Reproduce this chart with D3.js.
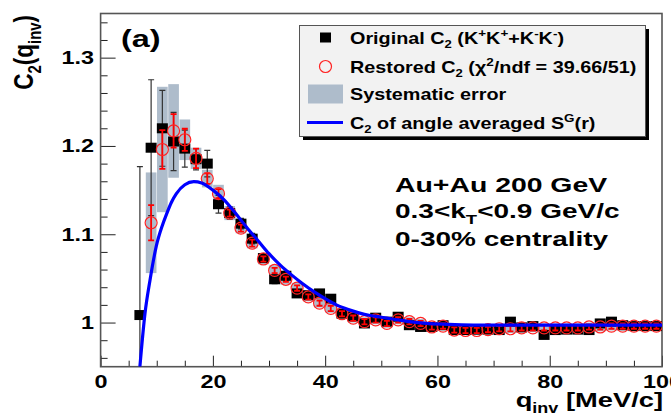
<!DOCTYPE html>
<html><head><meta charset="utf-8">
<script src="https://cdn.jsdelivr.net/npm/d3@7"></script>
<style>
html,body{margin:0;padding:0;background:#fff;}
text{font-family:"Liberation Sans",Arial,Helvetica,sans-serif;font-weight:bold;fill:#000;}
</style></head>
<body><svg id="c" width="671" height="419"></svg>
<script>
// ---------------- data ----------------
const qValues = [7,9,11,13,15,17,19,21,23,25,27,29,31,33,35,37,39,41,43,45,47,49,51,53,55,57,59,61,63,65,67,69,71,73,75,77,79,81,83,85,87,89,91,93,95,97,99];
const origC2  = [1.0085,1.198,1.220,1.205,1.197,1.185,1.180,1.134,1.124,1.112,1.095,1.073,1.049,1.053,1.033,1.031,1.033,1.027,1.010,1.007,0.999,1.0055,1.001,1.0066,0.997,0.995,0.995,0.997,0.9915,0.9915,0.992,0.992,0.9915,1.001,0.9945,0.996,0.986,0.9915,0.992,0.992,0.9915,0.999,1.001,0.997,0.996,0.996,0.996];
const origErr = [0.168,0.077,0.043,0.033,0.021,0.012,0.015,0.010,0.007,0.006,0.006,0.005,0.005,0.005,0.004,0.004,0.004,0.004,0.004,0.004,0.004,0.004,0.004,0.004,0.004,0.004,0.004,0.004,0.004,0.004,0.004,0.004,0.004,0.004,0.004,0.004,0.004,0.004,0.004,0.004,0.004,0.004,0.004,0.004,0.004,0.004,0.004];
const restQ   = [9,11,13,15,17,19,21,23,25,27,29,31,33,35,37,39,41,43,45,47,49,51,53,55,57,59,61,63,65,67,69,71,73,75,77,79,81,83,85,87,89,91,93,95,97,99];
const restC2  = [1.113,1.196,1.217,1.207,1.186,1.163,1.146,1.124,1.107,1.090,1.072,1.059,1.049,1.039,1.029,1.022,1.016,1.010,1.005,1.001,1.003,0.999,1.003,1.001,0.999,0.995,0.996,0.9915,0.991,0.991,0.992,0.993,0.993,0.994,0.994,0.994,0.994,0.994,0.994,0.995,0.995,0.996,0.996,0.996,0.996,0.996];
const restErr = [0.020,0.022,0.019,0.0125,0.011,0.006,0.005,0.004,0.004,0.004,0.003,0.003,0.003,0.003,0.003,0.003,0.003,0.003,0.003,0.003,0.003,0.003,0.003,0.003,0.003,0.003,0.003,0.003,0.003,0.003,0.003,0.003,0.003,0.003,0.003,0.003,0.003,0.003,0.003,0.003,0.003,0.003,0.003,0.003,0.003,0.003];
const sysErr  = [0.057,0.071,0.053,0.023,0.012,0.010,0.010,0.008,0.006,0.006,0.006,0.006,0.006,0.006,0.005,0.005,0.005,0.005,0.005,0.005,0.005,0.005,0.005,0.005,0.005,0.005,0.005,0.005,0.005,0.005,0.005,0.005,0.005,0.005,0.005,0.005,0.005,0.005,0.005,0.005,0.005,0.005,0.005,0.005,0.005,0.005];
const curveQ  = [7.0,7.9,8.8,9.9,11.0,11.7,12.6,13.5,15.0,16.6,18.0,20,22,24,26,28,30,32,34,36,38,40,42,44,46,48,50,52,55,58,62,70,80,90,100];
const curveC2 = [0.95,1.010,1.048,1.086,1.110,1.122,1.136,1.146,1.156,1.1595,1.158,1.150,1.139,1.124,1.108,1.093,1.078,1.065,1.054,1.044,1.035,1.027,1.020,1.015,1.011,1.008,1.006,1.004,1.001,0.999,0.998,0.997,0.997,0.997,0.997];
const xMajor = [0,20,40,60,80,100];
const yMajor = [1.0,1.1,1.2,1.3];
const legendLabels = ["Original", "Restored", "Systematic error", "angle averaged"];
const infoLines = ["Au+Au 200 GeV", "0.3<k_T<0.9 GeV/c", "0-30% centrality"];

// ---------------- layout ----------------
const SX = 1.3; // horizontal stretch of the reference lettering
const svg = d3.select("#c");
const x = d3.scaleLinear().domain([0,100]).range([100.6,662]);
const y = d3.scaleLinear().domain([0.95,1.35]).range([366.7,13.5]);
const X0=x(0), X1=x(100), Y0=y(0.95), Y1=y(1.35);

svg.append("rect").attr("width",671).attr("height",419).attr("fill","#fff");
svg.append("clipPath").attr("id","clip").append("rect")
  .attr("x",X0).attr("y",Y1).attr("width",X1-X0).attr("height",Y0-Y1);

// axes (ticks inward)
const minorX = d3.range(0,101,5).filter(v=>v%20!==0);
const minorY = d3.range(0,21).map(i=>+(0.96+i*0.02).toFixed(2)).filter(v=>Math.abs(v*10-Math.round(v*10))>1e-6 && v<1.35);
const gx = svg.append("g").attr("transform",`translate(0,${Y0})`);
gx.call(d3.axisBottom(x).tickValues(xMajor).tickSizeInner(-11).tickSizeOuter(0).tickPadding(6).tickFormat(d3.format("d")));
gx.append("g").call(d3.axisBottom(x).tickValues(minorX).tickSizeInner(-6).tickSizeOuter(0).tickFormat(""));
gx.selectAll("text").attr("font-size",18).attr("dy","0.85em").attr("transform",`scale(${SX},1)`);
gx.selectAll("line").attr("stroke","#222").attr("stroke-width",1);
gx.selectAll(".domain").remove();

const gy = svg.append("g").attr("transform",`translate(${X0},0)`);
gy.call(d3.axisLeft(y).tickValues(yMajor).tickSizeInner(-15).tickSizeOuter(0).tickPadding(5).tickFormat(d=>d===1?"1":d3.format(".1f")(d)));
gy.append("g").call(d3.axisLeft(y).tickValues(minorY).tickSizeInner(-7).tickSizeOuter(0).tickFormat(""));
gy.selectAll("text").attr("font-size",18).attr("transform",`scale(${SX},1)`);
gy.selectAll("line").attr("stroke","#222").attr("stroke-width",1);
gy.selectAll(".domain").remove();

// frame
svg.append("rect").attr("x",X0).attr("y",Y1).attr("width",X1-X0).attr("height",Y0-Y1)
  .attr("fill","none").attr("stroke","#555").attr("stroke-width",1.6);

const plot = svg.append("g").attr("clip-path","url(#clip)");

// systematic boxes
const bw = 1.9;
plot.selectAll("rect.sys").data(restQ).join("rect").attr("class","sys")
  .attr("x",(d)=>x(d-bw/2)).attr("width",x(bw)-x(0))
  .attr("y",(d,i)=>y(restC2[i]+sysErr[i])).attr("height",(d,i)=>y(restC2[i]-sysErr[i])-y(restC2[i]+sysErr[i]))
  .attr("fill","#aebccb");

// black error bars + squares
const ge = plot.append("g").attr("stroke","#333").attr("stroke-width",1.2);
qValues.forEach((q,i)=>{
  const cx=x(q), t=y(origC2[i]+origErr[i]), b=y(origC2[i]-origErr[i]);
  ge.append("line").attr("x1",cx).attr("x2",cx).attr("y1",t).attr("y2",b);
  ge.append("line").attr("x1",cx-3).attr("x2",cx+3).attr("y1",t).attr("y2",t);
  ge.append("line").attr("x1",cx-3).attr("x2",cx+3).attr("y1",b).attr("y2",b);
});
plot.selectAll("rect.orig").data(qValues).join("rect").attr("class","orig")
  .attr("x",d=>x(d)-5.5).attr("width",11)
  .attr("y",(d,i)=>y(origC2[i])-5).attr("height",10).attr("fill","#000");

// red error bars + circles
const gr = plot.append("g").attr("stroke","#f00").attr("stroke-width",1.8);
restQ.forEach((q,i)=>{
  const cx=x(q), t=y(restC2[i]+restErr[i]), b=y(restC2[i]-restErr[i]);
  gr.append("line").attr("x1",cx).attr("x2",cx).attr("y1",t).attr("y2",b);
  gr.append("line").attr("x1",cx-3).attr("x2",cx+3).attr("y1",t).attr("y2",t);
  gr.append("line").attr("x1",cx-3).attr("x2",cx+3).attr("y1",b).attr("y2",b);
});
plot.selectAll("circle.rest").data(restQ).join("circle").attr("class","rest")
  .attr("cx",d=>x(d)).attr("cy",(d,i)=>y(restC2[i])).attr("r",6)
  .attr("fill","none").attr("stroke","#f22").attr("stroke-width",1.2);

// blue curve
const line = d3.line().x((d,i)=>x(curveQ[i])).y((d,i)=>y(curveC2[i])).curve(d3.curveMonotoneX);
plot.append("path").datum(curveQ).attr("d",line).attr("fill","none").attr("stroke","#0000ff").attr("stroke-width",3.2);

// rich text helper (text stretched horizontally by sx around its anchor)
function rich(g, xx, yy, segs, size, sx, anchor, extra){
  const t = g.append("text").attr("x",0).attr("y",0).attr("font-size",size)
    .attr("transform",extra || `translate(${xx},${yy}) scale(${sx},1)`);
  if(anchor) t.attr("text-anchor",anchor);
  let shift=0;
  segs.forEach(s=>{
    const sp=t.append("tspan").text(s.t);
    let target=0, fs=size;
    if(s.sub){target=size*0.3; fs=size*0.66;}
    if(s.sup){target=-size*0.38; fs=size*0.68;}
    sp.attr("dy",target-shift).attr("font-size",fs);
    shift=target;
  });
  return t;
}

// (a)
rich(svg,121,47,[{t:"(a)"}],24,1.35);

// legend
const lg = svg.append("g");
lg.append("rect").attr("x",303).attr("y",29).attr("width",346).attr("height",111).attr("fill","#000");
lg.append("rect").attr("x",299.5).attr("y",25.5).attr("width",346).attr("height",111).attr("fill","#f2f2f2").attr("stroke","#555").attr("stroke-width",1);
const rows=[37.5,66.5,94,122.5];
lg.append("rect").attr("x",320).attr("y",rows[0]-5).attr("width",11).attr("height",10).attr("fill","#000");
lg.append("circle").attr("cx",325.5).attr("cy",rows[1]).attr("r",6).attr("fill","none").attr("stroke","#f22").attr("stroke-width",1.2);
lg.append("rect").attr("x",308).attr("y",rows[2]-9.5).attr("width",35).attr("height",19).attr("fill","#aebccb");
lg.append("line").attr("x1",307).attr("x2",343).attr("y1",rows[3]).attr("y2",rows[3]).attr("stroke","#0000ff").attr("stroke-width",3);
const fs=16.5, lsx=1.2, tx=350;
rich(lg,tx,rows[0]+6,[{t:legendLabels[0]+" C"},{t:"2",sub:true},{t:" (K"},{t:"+",sup:true},{t:"K"},{t:"+",sup:true},{t:"+K"},{t:"-",sup:true},{t:"K"},{t:"-",sup:true},{t:")"}],fs,lsx);
rich(lg,tx,rows[1]+6,[{t:legendLabels[1]+" C"},{t:"2",sub:true},{t:" (\u03c7"},{t:"2",sup:true},{t:"/ndf = 39.66/51)"}],fs,lsx);
rich(lg,tx,rows[2]+6,[{t:legendLabels[2]}],fs,lsx);
rich(lg,tx,rows[3]+6,[{t:"C"},{t:"2",sub:true},{t:" of "+legendLabels[3]+" S"},{t:"G",sup:true},{t:"(r)"}],fs,lsx);

// info text
rich(svg,395,192,[{t:infoLines[0]}],20,1.42);
rich(svg,395,218,[{t:"0.3<k"},{t:"T",sub:true},{t:"<0.9 GeV/c"}],20,1.4);
rich(svg,395,246,[{t:infoLines[2]}],20,1.4);

// axis titles
rich(svg,663,407,[{t:"q"},{t:"inv",sub:true},{t:" [MeV/c]"}],21,SX,"end");
rich(svg,0,0,[{t:"C"},{t:"2",sub:true},{t:"(q"},{t:"inv",sub:true},{t:")"}],22.5,1,"end","translate(33,15) rotate(-90) scale(1,1.2)");
</script></body></html>
